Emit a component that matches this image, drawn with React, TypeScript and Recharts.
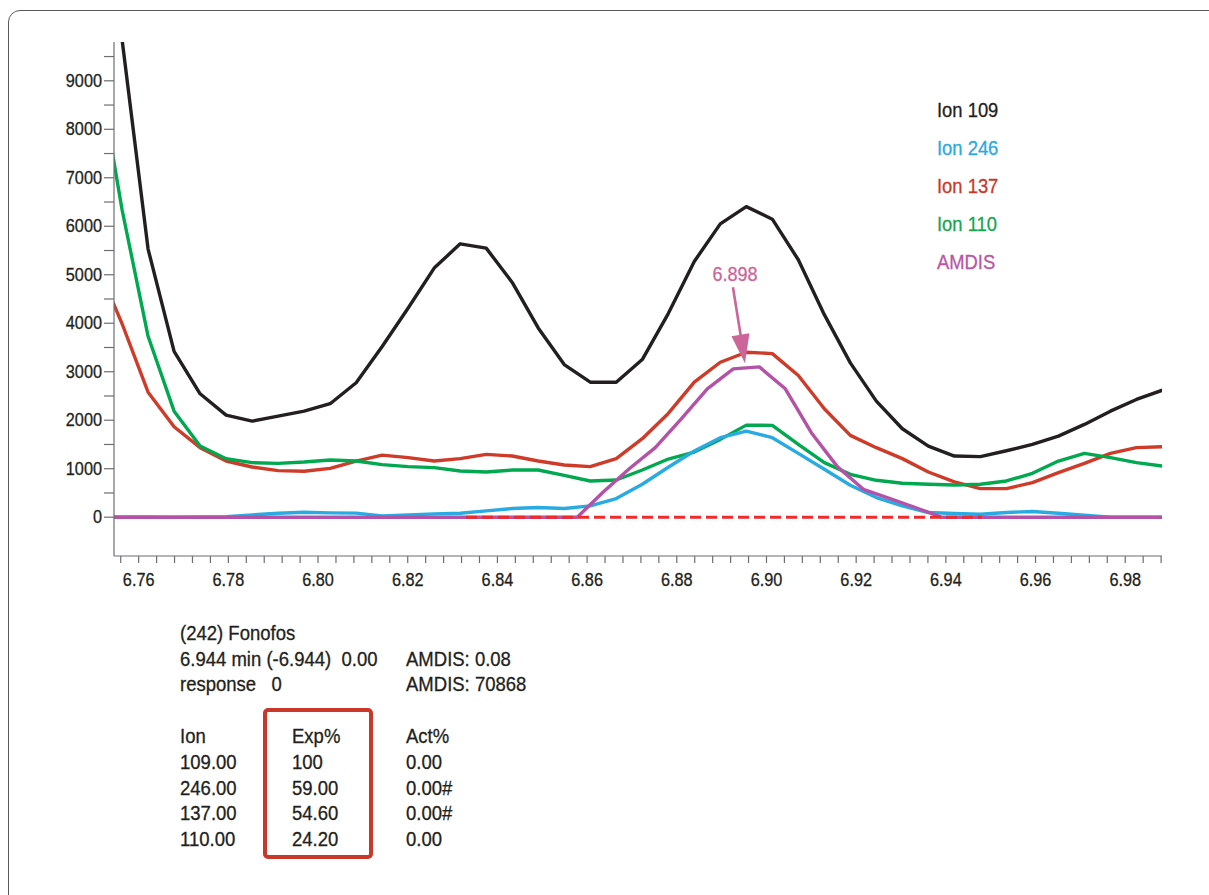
import React from 'react';
import { LineChart, Line, XAxis, YAxis, ReferenceDot } from 'recharts';

const FONT = "'Liberation Sans', Arial, sans-serif";
const AXIS = '#6d6e71';
const INK = '#231f20';

// retention time (min) of each scan for the ion traces
const times = [
  6.7505, 6.7563, 6.7621, 6.7679, 6.7737, 6.7795, 6.7853, 6.7911, 6.7969, 6.8027,
  6.8085, 6.8143, 6.8201, 6.8259, 6.8317, 6.8375, 6.8433, 6.8491, 6.8549, 6.8607,
  6.8665, 6.8723, 6.8781, 6.8839, 6.8897, 6.8955, 6.9013, 6.9071, 6.9129, 6.9187,
  6.9245, 6.9303, 6.9361, 6.9419, 6.9477, 6.9535, 6.9593, 6.9651, 6.9709, 6.9767,
  6.9825, 6.9883,
];

const ion109 = [
  14000, 9850, 5530, 3420, 2545, 2105, 1981, 2085, 2187, 2340,
  2772, 3520, 4315, 5138, 5638, 5549, 4842, 3903, 3148, 2784,
  2784, 3251, 4200, 5274, 6049, 6405, 6146, 5309, 4177, 3183,
  2393, 1825, 1467, 1261, 1249, 1370, 1502, 1673, 1914, 2187,
  2428, 2619,
];

const ion137 = [
  5250, 3990, 2578, 1866, 1434, 1159, 1035, 961, 947, 1008,
  1158, 1280, 1228, 1159, 1208, 1296, 1262, 1159, 1076, 1043,
  1208, 1619, 2140, 2784, 3196, 3402, 3374, 2922, 2237, 1687,
  1434, 1208, 932, 727, 590, 590, 714, 920, 1111, 1317,
  1434, 1454,
];

const ion110 = [
  9500, 6340, 3731, 2187, 1467, 1207, 1125, 1111, 1138, 1179,
  1158, 1085, 1043, 1022, 953, 932, 973, 973, 864, 747,
  768, 973, 1200, 1344, 1605, 1899, 1893, 1502, 1125, 885,
  761, 700, 679, 665, 679, 747, 905, 1158, 1317, 1228,
  1125, 1056,
];

const ion246 = [
  0, 5, 5, 0, 5, 12, 47, 82, 103, 90,
  85, 27, 47, 68, 82, 130, 179, 199, 179, 233,
  385, 679, 1030, 1364, 1640, 1776, 1640, 1317, 988, 658,
  405, 233, 97, 75, 62, 97, 117, 82, 41, 0,
  0, 0,
];

// AMDIS deconvoluted component (sampled between the scans)
const amdisTimes = [
  6.7505, 6.8578, 6.8636, 6.8694, 6.8752, 6.8810, 6.8868, 6.8926, 6.8984,
  6.9042, 6.9100, 6.9158, 6.9216, 6.9274, 6.9332, 6.9390, 6.9912,
];
const amdis = [0, 0, 520, 1000, 1434, 2030, 2648, 3060, 3100, 2648, 1743, 1043, 576, 390, 200, 0, 0];

// integration baseline
const baselineTimes = [6.833, 6.948];
const baselineValues = [0, 0];

const peakLabel = '6.898';
const peakTime = 6.8952;
const peakValue = 3175;

const xTicks = Array.from({ length: 59 }, (_, i) => Number((6.756 + i * 0.004).toFixed(3)));
const yTicks = Array.from({ length: 20 }, (_, i) => i * 500);

const legendItems = [
  { name: 'Ion 109', color: INK },
  { name: 'Ion 246', color: '#29aae2' },
  { name: 'Ion 137', color: '#c9392a' },
  { name: 'Ion 110', color: '#16a64f' },
  { name: 'AMDIS', color: '#b955a8' },
];

const infoLeft = ['(242) Fonofos', '6.944 min (-6.944)  0.00', 'response   0'];
const infoRight = ['', 'AMDIS: 0.08', 'AMDIS: 70868'];
const tableHeader = ['Ion', 'Exp%', 'Act%'];
const ionCol = ['109.00', '246.00', '137.00', '110.00'];
const expCol = ['100', '59.00', '54.60', '24.20'];
const actCol = ['0.00', '0.00#', '0.00#', '0.00'];

const toPoints = (xs: number[], ys: number[]) => xs.map((t, i) => ({ t, v: ys[i] }));

// condensed text: the original uses a narrow face, so squeeze a regular one
const CText = ({ x, y, sx = 0.95, size = 19.5, anchor = 'start', fill = INK, children }: any) => (
  <g transform={`translate(${x},${y}) scale(${sx},1)`}>
    <text
      x={0}
      y={0}
      textAnchor={anchor}
      fontFamily={FONT}
      fontSize={size}
      fill={fill}
      stroke={fill}
      strokeWidth={0.3}
      xmlSpace="preserve"
    >
      {children}
    </text>
  </g>
);

const XTick = ({ x, y, payload }: any) => {
  const v = payload.value;
  if (Math.round(v * 1000) % 20 !== 0) return null;
  return <CText x={x} y={y + 21} sx={0.88} size={18.5} anchor="middle">{v.toFixed(2)}</CText>;
};

const YTick = ({ x, y, payload }: any) => {
  const v = payload.value;
  if (v % 1000 !== 0) return null;
  return <CText x={x} y={y + 6} sx={0.88} size={18.5} anchor="end">{String(v)}</CText>;
};

const PeakArrow = ({ cx, cy }: any) => {
  const c = '#cc6699';
  return (
    <g>
      <line x1={cx - 12} y1={cy - 76} x2={cx - 4} y2={cy - 26} stroke={c} strokeWidth={2.6} />
      <polygon points={`${cx},${cy} ${cx - 13.5},${cy - 27} ${cx + 4.5},${cy - 30}`} fill={c} />
      <CText x={cx - 10} y={cy - 82} sx={0.9} size={20} anchor="middle" fill={c}>{peakLabel}</CText>
    </g>
  );
};

const App = () => {
  const lineProps = {
    dataKey: 'v',
    dot: false,
    activeDot: false,
    strokeWidth: 3.4,
    type: 'linear' as const,
    isAnimationActive: false,
    strokeLinejoin: 'round' as const,
  };

  return (
    <div style={{ position: 'fixed', left: 0, top: 0, width: 1209, height: 895, overflow: 'hidden', background: '#fff' }}>
      <div
        style={{
          position: 'absolute', left: 8, top: 10, width: 1300, height: 1000,
          border: '1.5px solid #58595b', borderRadius: 12, boxSizing: 'border-box',
        }}
      />
      <div style={{ position: 'absolute', left: 0, top: 0 }}>
        <LineChart width={1209} height={600} margin={{ top: 42, right: 47, left: 54, bottom: 0 }}>
          <XAxis
            type="number"
            dataKey="t"
            domain={[6.7545, 6.9882]}
            allowDataOverflow
            ticks={xTicks}
            interval={0}
            height={44}
            tickSize={7}
            tick={<XTick />}
            axisLine={{ stroke: AXIS, strokeWidth: 1.2 }}
            tickLine={{ stroke: AXIS, strokeWidth: 1.2 }}
          />
          <YAxis
            type="number"
            domain={[-800, 9800]}
            allowDataOverflow
            ticks={yTicks}
            interval={0}
            width={60}
            tickSize={10}
            tick={<YTick />}
            axisLine={{ stroke: AXIS, strokeWidth: 1.2 }}
            tickLine={{ stroke: AXIS, strokeWidth: 1.2 }}
          />
          <Line {...lineProps} data={toPoints(times, ion109)} stroke={INK} />
          <Line {...lineProps} data={toPoints(times, ion137)} stroke="#cf3b29" />
          <Line {...lineProps} data={toPoints(times, ion110)} stroke="#00a84f" />
          <Line {...lineProps} data={toPoints(times, ion246)} stroke="#29abe2" />
          <Line {...lineProps} data={toPoints(amdisTimes, amdis)} stroke="#b452a7" />
          <Line
            {...lineProps}
            data={toPoints(baselineTimes, baselineValues)}
            stroke="#ee2a2a"
            strokeWidth={3}
            strokeDasharray="11 5"
            strokeLinejoin="miter"
          />
          <ReferenceDot x={peakTime} y={peakValue} r={0} shape={<PeakArrow />} ifOverflow="visible" />
        </LineChart>
      </div>
      <svg width={1209} height={895} style={{ position: 'absolute', left: 0, top: 0, pointerEvents: 'none' }}>
        {legendItems.map((it, i) => (
          <CText key={it.name} x={937} y={117 + i * 38} sx={0.92} size={20} fill={it.color}>
            {it.name}
          </CText>
        ))}
        {infoLeft.map((s, i) => (
          <CText key={'l' + i} x={180} y={640 + i * 25.5}>{s}</CText>
        ))}
        {infoRight.map((s, i) => (
          <CText key={'r' + i} x={406} y={640 + i * 25.5}>{s}</CText>
        ))}
        {tableHeader.map((s, i) => (
          <CText key={'h' + i} x={[180, 292, 406][i]} y={743}>{s}</CText>
        ))}
        {ionCol.map((s, i) => (
          <React.Fragment key={'row' + i}>
            <CText x={180} y={769 + i * 25.5}>{s}</CText>
            <CText x={292} y={769 + i * 25.5}>{expCol[i]}</CText>
            <CText x={406} y={769 + i * 25.5}>{actCol[i]}</CText>
          </React.Fragment>
        ))}
        <rect x={265} y={710} width={106} height={147} rx={3} fill="none" stroke="#c9382b" strokeWidth={4} />
      </svg>
    </div>
  );
};

export default App;
